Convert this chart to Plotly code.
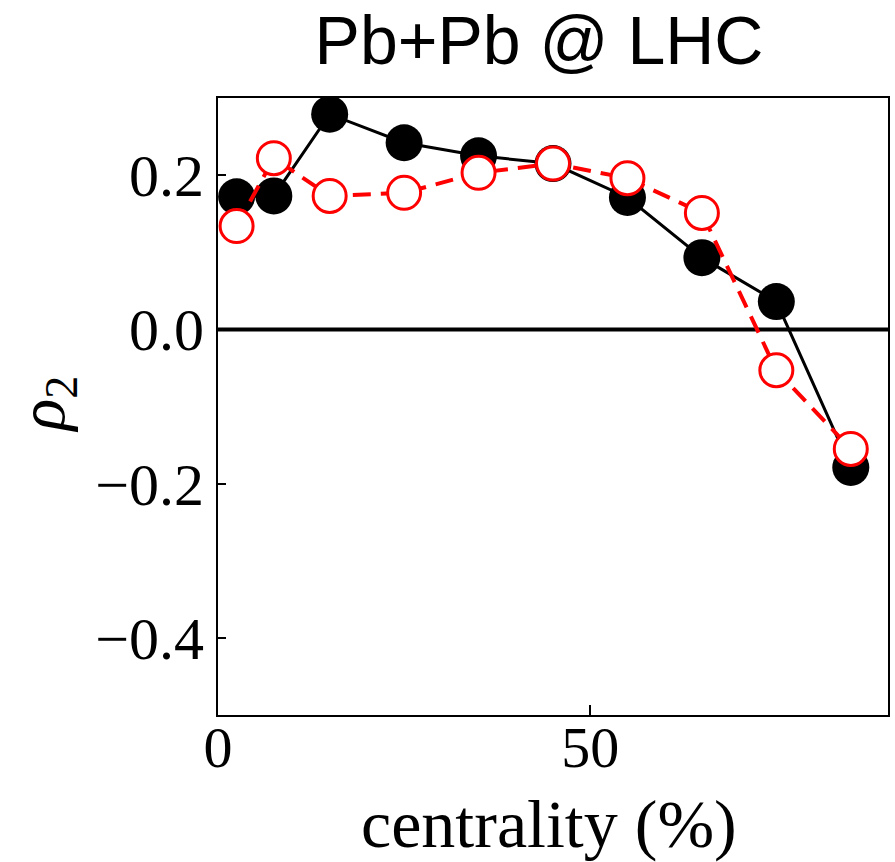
import plotly.graph_objects as go

centrality = [2.5, 7.5, 15, 25, 35, 45, 55, 65, 75, 85]
rho2_black = [0.172, 0.173, 0.279, 0.242, 0.225, 0.215, 0.171, 0.093, 0.036, -0.179]
rho2_red = [0.134, 0.222, 0.173, 0.177, 0.203, 0.215, 0.196, 0.151, -0.053, -0.155]

x_ticks = [0, 50]
y_ticks = [-0.4, -0.2, 0.0, 0.2]
y_tick_text = ["\u22120.4", "\u22120.2", "0.0", "0.2"]

fig = go.Figure()
fig.add_trace(go.Scatter(
    x=centrality, y=rho2_black, mode="lines+markers",
    line=dict(color="black", width=3),
    marker=dict(color="black", size=37, line=dict(width=0)),
    showlegend=False,
))
fig.add_trace(go.Scatter(
    x=centrality, y=rho2_red, mode="lines+markers",
    line=dict(color="#ff0000", width=4, dash="18px,10px"),
    marker=dict(color="white", size=33, line=dict(color="#ff0000", width=3)),
    showlegend=False,
))

fig.add_shape(type="line", xref="paper", yref="y", x0=0, x1=1, y0=0, y1=0,
              line=dict(color="black", width=4), layer="below")

serif = "Liberation Serif, DejaVu Serif, serif"
W, H = 895, 862
L, R, T, B = 218, 5, 98, 147
pw, ph = W - L - R, H - T - B

fig.update_layout(
    width=W, height=H,
    margin=dict(l=L, r=R, t=T, b=B),
    plot_bgcolor="white", paper_bgcolor="white",
    title=dict(text="Pb+Pb @ LHC", x=539/W, xanchor="center", y=1-40/H, yanchor="middle",
               font=dict(family="Liberation Sans, Arial, sans-serif", size=68, color="black")),
    xaxis=dict(range=[0, 90], tickvals=x_ticks, ticks="inside", ticklen=10, tickwidth=2,
               tickcolor="black", showline=True, linecolor="black", linewidth=2, mirror=True,
               showgrid=False, zeroline=False, ticklabelstandoff=-20,
               tickfont=dict(family=serif, size=58, color="black")),
    yaxis=dict(range=[-0.5, 0.3], tickvals=y_ticks, ticktext=y_tick_text, ticks="inside", ticklen=8,
               tickwidth=2, tickcolor="black", showline=True, linecolor="black", linewidth=2, mirror=True,
               showgrid=False, zeroline=False,
               tickfont=dict(family=serif, size=60, color="black")),
    annotations=[
        dict(text="centrality (%)", xref="paper", yref="paper",
             x=(550 - L) / pw, y=-(824 - (T + ph)) / ph, xanchor="center", yanchor="middle",
             showarrow=False, font=dict(family=serif, size=68, color="black")),
        dict(text="<i>ρ</i><sub>2</sub>", xref="paper", yref="paper",
             x=(45 - L) / pw, y=1 - (404 - T) / ph, xanchor="center", yanchor="middle",
             textangle=-90, showarrow=False, font=dict(family=serif, size=66, color="black")),
    ],
)

fig.write_html("out.html")
